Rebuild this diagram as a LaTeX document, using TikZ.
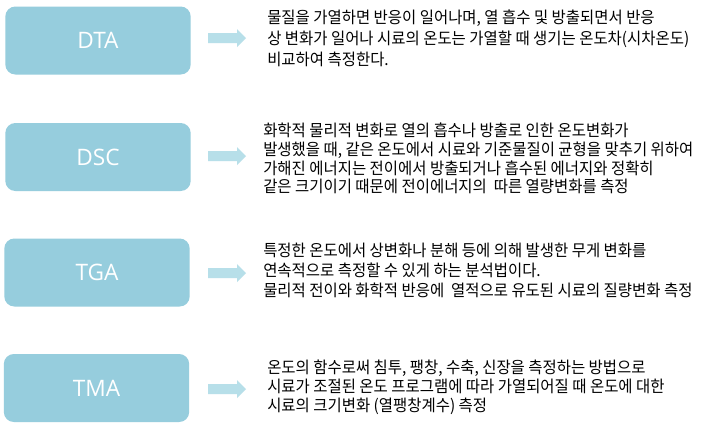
\documentclass[tikz,border=0pt]{standalone}
\usepackage{fontspec}
\setmainfont{Open Sans}
\newfontfamily\krfont[FakeStretch=0.95]{Noto Sans CJK KR}
\definecolor{boxblue}{RGB}{150,205,221}
\definecolor{arrowblue}{RGB}{183,223,233}
\begin{document}
\begin{tikzpicture}[x=0.75pt,y=-0.75pt,
  techbox/.style={fill=boxblue,rounded corners=7.5pt,minimum width=139pt,minimum height=51pt,inner sep=0pt,text=white,font=\fontsize{17}{20}\selectfont},
  desc/.style={anchor=north west,inner sep=0pt,align=left,text=black},
  blockarrow/.style={fill=arrowblue,draw=none}]
\useasboundingbox[fill=white] (0,0) rectangle (720,430);
% boxes
\node[techbox] (dta) at (98,40.5) {DTA};
\node[techbox] (dsc) at (98,157) {DSC};
\node[techbox] (tga) at (97,272.5) {TGA};
\node[techbox] (tma) at (96.5,388) {TMA};
% texts
\node[desc,font=\krfont\fontsize{12.2}{15.75}\selectfont] (tdta) at (267,10) {물질을 가열하면 반응이 일어나며, 열 흡수 및 방출되면서 반응\\상 변화가 일어나 시료의 온도는 가열할 때 생기는 온도차(시차온도)\\비교하여 측정한다.};
\node[desc,font=\krfont\fontsize{12.2}{13.9}\selectfont] (tdsc) at (263,123) {화학적 물리적 변화로 열의 흡수나 방출로 인한 온도변화가\\발생했을 때, 같은 온도에서 시료와 기준물질이 균형을 맞추기 위하여\\가해진 에너지는 전이에서 방출되거나 흡수된 에너지와 정확히\\같은 크기이기 때문에 전이에너지의\ \ 따른 열량변화를 측정};
\node[desc,font=\krfont\fontsize{12.2}{15}\selectfont] (ttga) at (263,243) {특정한 온도에서 상변화나 분해 등에 의해 발생한 무게 변화를\\연속적으로 측정할 수 있게 하는 분석법이다.\\물리적 전이와 화학적 반응에\ \ 열적으로 유도된 시료의 질량변화 측정};
\node[desc,font=\krfont\fontsize{12.2}{14.25}\selectfont] (ttma) at (267,360) {온도의 함수로써 침투, 팽창, 수축, 신장을 측정하는 방법으로\\시료가 조절된 온도 프로그램에 따라 가열되어질 때 온도에 대한\\시료의 크기변화 (열팽창계수) 측정};
% block arrows
\foreach \c/\yy in {a/38,b/156,c/273,d/389}{
  \coordinate (s\c) at (208,\yy);
  \fill[blockarrow] (s\c) ++(0,-5) -- ++(29,0) -- ++(0,-4) -- ++(9,9) -- ++(-9,9) -- ++(0,-4) -- ++(-29,0) -- cycle;
}
\end{tikzpicture}
\end{document}
